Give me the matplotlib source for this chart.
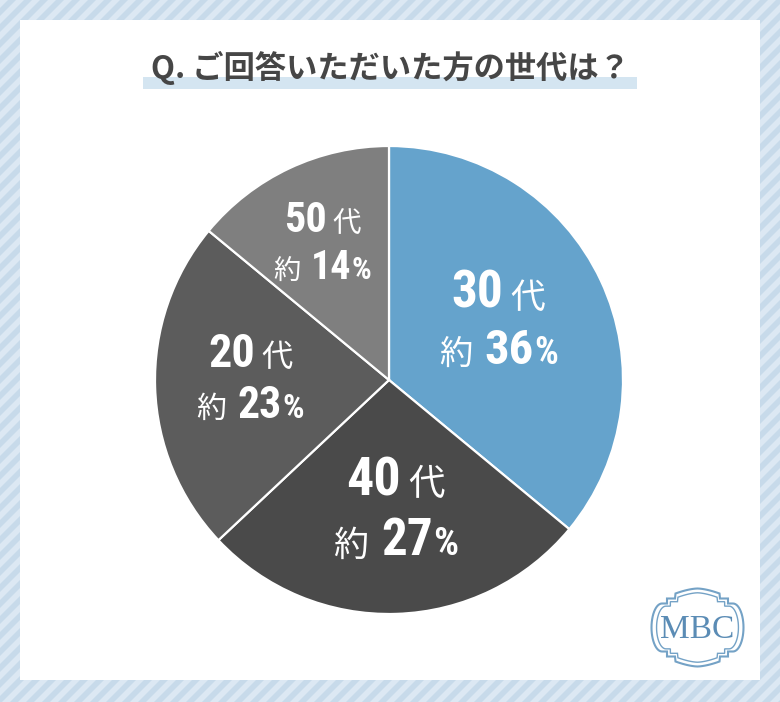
import os
import numpy as np
import matplotlib
matplotlib.use('Agg')
import matplotlib.pyplot as plt
from matplotlib import font_manager as fm
from matplotlib.offsetbox import TextArea, HPacker, VPacker, AnnotationBbox
from matplotlib.patches import Polygon, Rectangle

# ---------------- data ----------------
ages = ['30', '40', '20', '50']
age_suffix = '代'
values = [36, 27, 23, 14]
approx_prefix = '約'
colors = ['#65a3cc', '#4a4a4a', '#5c5c5c', '#7f7f7f']
title = 'Q. ご回答いただいた方の世代は？'
logo_text = 'MBC'

# label layout (radius fraction, angle nudge in degrees, size scale)
label_r = [0.53, 0.56, 0.594, 0.648]
label_nudge = [3, 1, -2, 1]
label_scale = [1.0, 1.05, 0.9, 0.82]

# ---------------- fonts ----------------
def find_cond_bold():
    prefs = ['RobotoCondensed-Bold.', 'Roboto_Condensed-Bold', 'RobotoCondensed-Bold',
             'LiberationSansNarrow-Bold.', 'DejaVuSansCondensed-Bold.']
    files = [f.fname for f in fm.fontManager.ttflist]
    for p in prefs:
        for fn in files:
            if p in os.path.basename(fn):
                return fn
    return None

cond_file = find_cond_bold()

def num_fp(size):
    if cond_file:
        return fm.FontProperties(fname=cond_file, size=size)
    return fm.FontProperties(family=['Roboto', 'DejaVu Sans'], weight='bold', size=size)

def cjk_fp(size, weight='normal'):
    return fm.FontProperties(family=['Noto Sans CJK JP', 'DejaVu Sans'], weight=weight, size=size)

# ---------------- figure ----------------
W, H = 780, 702
fig = plt.figure(figsize=(7.8, 7.02), dpi=100)

bg = fig.add_axes([0, 0, 1, 1])
bg.set_xlim(0, W)
bg.set_ylim(H, 0)
bg.axis('off')
bg.add_patch(Rectangle((0, 0), W, H, color='#c7daea', lw=0, zorder=0))
period = 16
for c in np.arange(0, W + H + period, period):
    bg.add_patch(Polygon([(c, 0), (c + period / 2, 0), (c + period / 2 - H, H), (c - H, H)],
                         closed=True, color='#dce8f3', lw=0, zorder=1))
bg.add_patch(Rectangle((20, 20), 740, 660, color='white', lw=0, zorder=2))

# title with highlight bar
bg.add_patch(Rectangle((143, 77), 494, 12, color='#d4e5f1', lw=0, zorder=3))
bg.text(390, 68, title, fontproperties=cjk_fp(22.5, 'bold'), color='#464646',
        ha='center', va='center', zorder=4)

# MBC logo frame
def frame_shape(s):
    q = []
    for t in np.linspace(0, 1, 10):
        q.append((22 * t, 39 - 5 * t ** 1.6))
    q += [(22, 34), (22.5, 29), (30.5, 29), (30.5, 24), (35.5, 24)]
    for t in np.linspace(0, 1, 14)[1:]:
        a = t * np.pi / 2
        q.append((35.5 + 10.5 * np.sin(a), 24 * np.cos(a)))
    q = np.array(q)
    q2 = q[::-1] * [1, -1]
    q3 = q * [-1, -1]
    q4 = q[::-1] * [-1, 1]
    pts = np.vstack([q, q2[1:], q3[1:], q4[1:]])
    return pts * s

lx, ly = 697.5, 627.5
for s, lw in [(1.0, 1.5), (0.89, 1.0)]:
    pts = frame_shape(s)
    bg.add_patch(Polygon(np.column_stack([lx + pts[:, 0], ly - pts[:, 1]]), closed=True,
                         fill=False, edgecolor='#74a2c6', lw=lw, zorder=5))
bg.text(lx, ly + 2, logo_text, family=['Liberation Serif', 'DejaVu Serif'], fontsize=24,
        color='#5b8cb5', ha='center', va='center', zorder=6)

# ---------------- pie ----------------
cx, cy, R = 389, 380, 234
ax = fig.add_axes([(cx - R) / W, (H - cy - R) / H, 2 * R / W, 2 * R / H])
wedges, _ = ax.pie(values, colors=colors, startangle=90, counterclock=False, radius=1,
                   wedgeprops=dict(edgecolor='white', linewidth=1.6))
ax.set_xlim(-1, 1)
ax.set_ylim(-1, 1)
ax.axis('off')

for i, w in enumerate(wedges):
    sc = label_scale[i]
    mid = np.deg2rad((w.theta1 + w.theta2) / 2 + label_nudge[i])
    x = label_r[i] * np.cos(mid)
    y = label_r[i] * np.sin(mid)
    line1 = HPacker(children=[
        TextArea(ages[i], textprops=dict(color='white', fontproperties=num_fp(37 * sc))),
        TextArea(age_suffix, textprops=dict(color='white', fontproperties=cjk_fp(25 * sc))),
    ], align='baseline', pad=0, sep=5 * sc)
    numpct = HPacker(children=[
        TextArea(f'{values[i]}', textprops=dict(color='white', fontproperties=num_fp(35 * sc))),
        TextArea('%', textprops=dict(color='white', fontproperties=num_fp(27 * sc))),
    ], align='baseline', pad=0, sep=0)
    line2 = HPacker(children=[
        TextArea(approx_prefix, textprops=dict(color='white', fontproperties=cjk_fp(24 * sc))),
        numpct,
    ], align='baseline', pad=0, sep=9 * sc)
    box = VPacker(children=[line1, line2], align='center', pad=0, sep=7 * sc)
    ab = AnnotationBbox(box, (x, y), xycoords='data', frameon=False, box_alignment=(0.5, 0.5),
                        pad=0)
    ax.add_artist(ab)

fig.savefig('out.png', dpi=100)
